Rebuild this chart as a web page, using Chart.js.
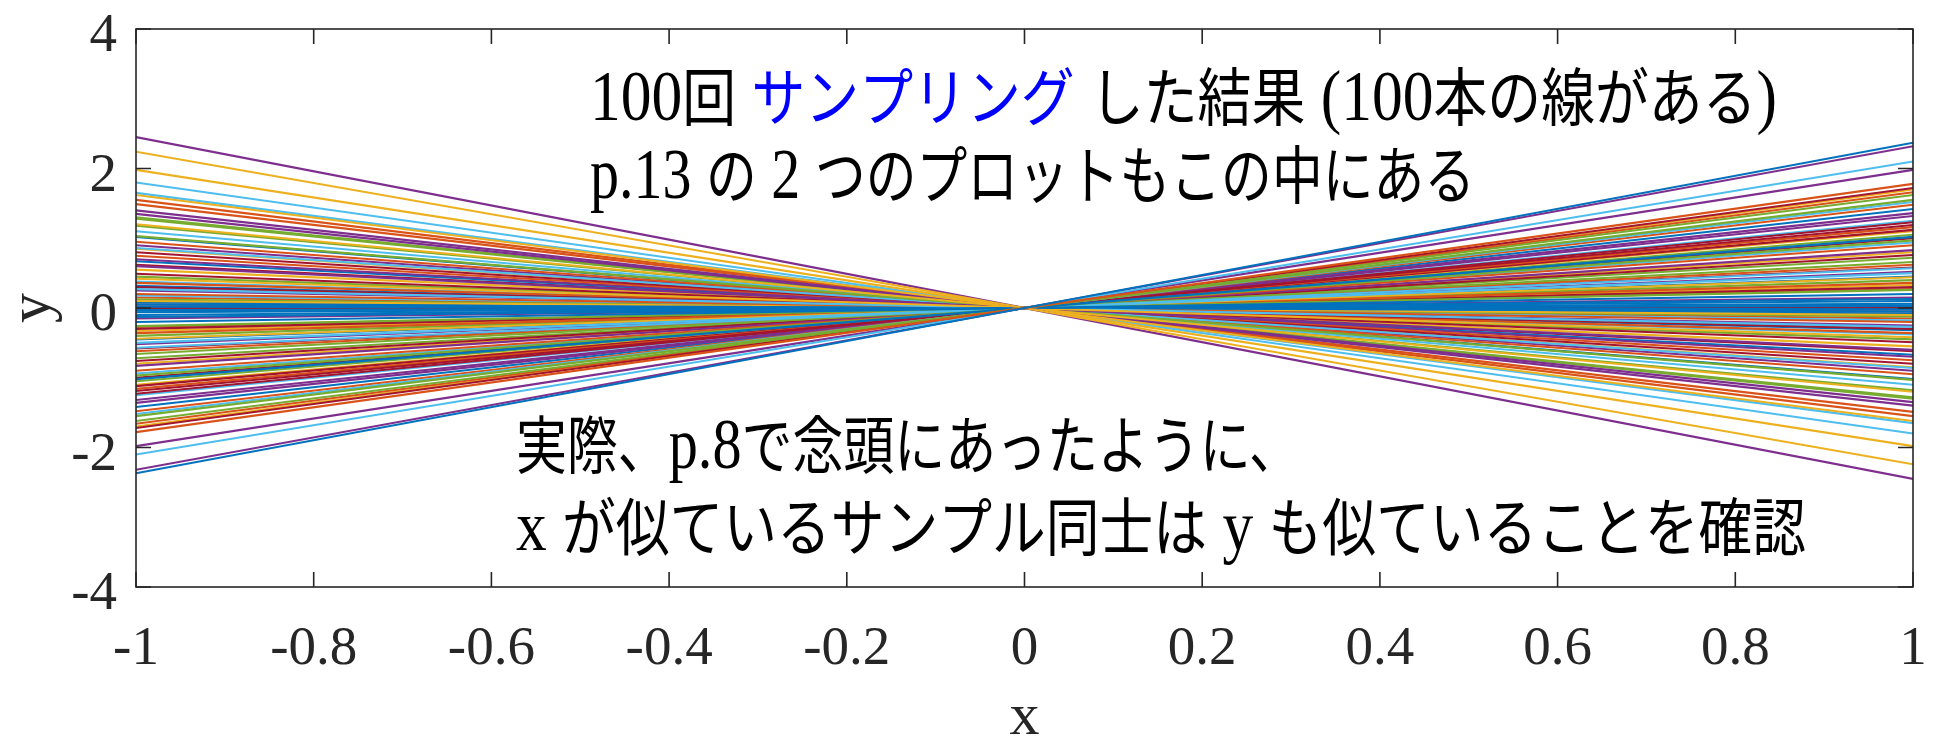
<!DOCTYPE html>
<html>
<head>
<meta charset="utf-8">
<script src="https://cdn.jsdelivr.net/npm/chart.js@4"></script>
<style>
  html, body { margin: 0; padding: 0; background: #fff; }
  canvas { display: block; }
</style>
</head>
<body>
<canvas id="chart" width="1935" height="739"></canvas>
<script>
// x range of every sampled line
const xEnds = [-1, 1];

// 100 sampled slopes w (y = w * x), in plot order.
// each row follows the colour order: blue, orange, yellow, purple, green, light blue, dark red
const slopes = [
   2.37,  1.78, -2.24, -2.45,  1.62,  2.10,  1.72,
   1.02,  1.66, -1.98,  2.32,  1.55,  1.52,  1.23,
   0.20,  1.48, -1.62,  1.98,  0.97,  0.57,  1.19,
   0.13,  1.16, -1.20,  1.36,  0.66,  0.50,  1.12,
   0.10,  0.90, -0.42,  0.83,  0.26, -0.27,  0.76,
   0.06,  0.62,  0.44, -0.60, -1.03, -0.86, -0.49,
   0.03,  0.36,  1.70, -1.35, -1.28, -1.10,  0.30,
  -0.02, -0.20,  0.80, -1.40, -1.30, -1.80, -0.30,
  -0.05, -0.36, -0.10,  1.32, -1.18,  0.05, -0.80,
  -0.08, -0.75,  0.33, -0.70,  0.40, -0.38,  0.00,
  -0.67, -0.95, -0.55,  0.52, -0.45,  0.94,  0.58,
  -0.32, -1.49,  1.10, -0.25,  0.72, -1.65, -0.62,
   0.45, -1.55,  0.02,  0.15, -0.12, -0.18,  1.00,
   1.42,  0.27, -0.85, -0.90,  1.05,  1.25, -0.05,
  -1.02, -0.15
];

const xTicks = [-1, -0.8, -0.6, -0.4, -0.2, 0, 0.2, 0.4, 0.6, 0.8, 1];
const xTickLabels = ["-1", "-0.8", "-0.6", "-0.4", "-0.2", "0", "0.2", "0.4", "0.6", "0.8", "1"];
const yTicks = [-4, -2, 0, 2, 4];
const yTickLabels = ["-4", "-2", "0", "2", "4"];
const xLabel = "x";
const yLabel = "y";

const noteLine1 = [["100回 ", "#000"], ["サンプリング", "#0000ff"], [" した結果 (100本の線がある)", "#000"]];
const noteLine2 = [["p.13 の 2 つのプロットもこの中にある", "#000"]];
const noteLine3 = [["実際、p.8で念頭にあったように、", "#000"]];
const noteLine4 = [["x が似ているサンプル同士は y も似ていることを確認", "#000"]];

// matlab default colour order
const colorOrder = ["#0072BD", "#D95319", "#EDB120", "#7E2F8E", "#77AC30", "#4DBEEE", "#A2142F"];

const datasets = slopes.map((w, i) => ({
  data: xEnds.map(x => ({ x: x, y: w * x })),
  borderColor: colorOrder[i % colorOrder.length],
  borderWidth: 2.1,
  pointRadius: 0,
  showLine: true,
  fill: false
}));

const LATIN = "'Liberation Serif', 'Times New Roman', serif";
const CJK = "'Noto Sans CJK JP', sans-serif";

// split text into latin / cjk runs so each gets its own font
function runsOf(text) {
  return text.match(/[\x00-\x7F]+|[^\x00-\x7F]+/g).map(t => ({
    text: t,
    font: /^[\x00-\x7F]/.test(t) ? "72px " + LATIN : "63px " + CJK
  }));
}

// draw a condensed note line squeezed to fit x0..x1
function drawNote(ctx, parts, x0, x1, base) {
  const pieces = [];
  parts.forEach(([text, color]) => runsOf(text).forEach(r => pieces.push({ ...r, color })));
  let total = 0;
  pieces.forEach(p => { ctx.font = p.font; p.w = ctx.measureText(p.text).width; total += p.w; });
  const sx = (x1 - x0) / total;
  ctx.save();
  ctx.translate(x0, base);
  ctx.scale(sx, 1);
  ctx.textAlign = "left";
  ctx.textBaseline = "alphabetic";
  let cx = 0;
  pieces.forEach(p => {
    ctx.font = p.font;
    ctx.fillStyle = p.color;
    ctx.fillText(p.text, cx, 0);
    cx += p.w;
  });
  ctx.restore();
}

const axesBox = {
  id: "axesBox",
  afterDatasetsDraw(chart) {
    const { ctx, chartArea: a, scales: { x, y } } = chart;
    const tick = 15;
    ctx.save();
    ctx.strokeStyle = "#262626";
    ctx.lineWidth = 1.6;
    ctx.strokeRect(a.left, a.top, a.right - a.left, a.bottom - a.top);
    ctx.beginPath();
    xTicks.forEach(v => {
      const px = x.getPixelForValue(v);
      ctx.moveTo(px, a.bottom); ctx.lineTo(px, a.bottom - tick);
      ctx.moveTo(px, a.top); ctx.lineTo(px, a.top + tick);
    });
    yTicks.forEach(v => {
      const py = y.getPixelForValue(v);
      ctx.moveTo(a.left, py); ctx.lineTo(a.left + tick, py);
      ctx.moveTo(a.right, py); ctx.lineTo(a.right - tick, py);
    });
    ctx.stroke();

    ctx.fillStyle = "#262626";
    ctx.font = "55px " + LATIN;
    ctx.textBaseline = "alphabetic";
    ctx.textAlign = "center";
    xTicks.forEach((v, i) => ctx.fillText(xTickLabels[i], x.getPixelForValue(v), a.bottom + 77));
    ctx.textAlign = "right";
    yTicks.forEach((v, i) => ctx.fillText(yTickLabels[i], a.left - 19, y.getPixelForValue(v) + 22));

    ctx.font = "60px " + LATIN;
    ctx.textAlign = "center";
    ctx.fillText(xLabel, (a.left + a.right) / 2, 734);
    ctx.save();
    ctx.translate(49, (a.top + a.bottom) / 2);
    ctx.rotate(-Math.PI / 2);
    ctx.fillText(yLabel, 0, 0);
    ctx.restore();

    drawNote(ctx, noteLine1, 590, 1777, 120);
    drawNote(ctx, noteLine2, 590, 1475, 198);
    drawNote(ctx, noteLine3, 516, 1300, 468);
    drawNote(ctx, noteLine4, 516, 1806, 550);
    ctx.restore();
  }
};

new Chart(document.getElementById("chart").getContext("2d"), {
  type: "scatter",
  data: { datasets },
  options: {
    responsive: false,
    animation: false,
    layout: { padding: { left: 136, right: 22, top: 29, bottom: 152 } },
    plugins: { legend: { display: false }, tooltip: { enabled: false } },
    scales: {
      x: { type: "linear", min: -1, max: 1, display: false },
      y: { type: "linear", min: -4, max: 4, display: false }
    }
  },
  plugins: [axesBox]
});
</script>
</body>
</html>
